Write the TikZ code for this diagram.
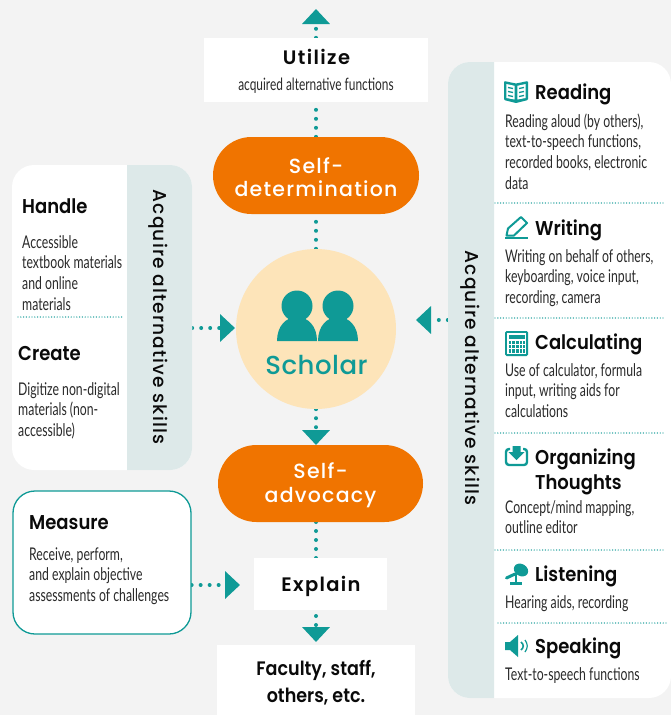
\documentclass[tikz,border=0pt]{standalone}
\usepackage{fontspec}
\usetikzlibrary{arrows.meta,shapes.misc}
\setmainfont{Lato}
\newfontfamily\hdf{Poppins}[UprightFont=* SemiBold,FakeStretch=0.9]
\newfontfamily\sphdf{Poppins}[UprightFont=* Medium,LetterSpace=6]
\newfontfamily\spbdf{Poppins}[UprightFont=* SemiBold,LetterSpace=7]
\newfontfamily\schf{Poppins}[UprightFont=* Medium,LetterSpace=2]
\newfontfamily\bdf{Lato}[FakeStretch=0.7]
\definecolor{tealc}{HTML}{0F9A96}
\definecolor{stripc}{HTML}{DDE9E9}
\definecolor{orangec}{HTML}{F07400}
\definecolor{creamc}{HTML}{FDE4B9}
\definecolor{bgc}{HTML}{F3F3F3}
\definecolor{inkc}{HTML}{0A0A0A}
\definecolor{bodyc}{HTML}{2A2A2A}
\pgfdeclarelayer{lines}
\pgfdeclarelayer{back}
\pgfsetlayers{back,lines,main}
\tikzset{
  whitebox/.style={fill=white,inner sep=0pt,draw=none},
  panelbox/.style={whitebox,rounded corners=22pt},
  pillbox/.style={rounded rectangle,fill=orangec,inner sep=0pt},
  dotline/.style={draw=tealc,line width=4pt,line cap=round,dash pattern=on 0pt off 9pt},
  sep/.style={draw=tealc,line width=1.4pt,line cap=round,dash pattern=on 0pt off 2.8pt},
  tip/.style={-{Triangle[width=27pt,length=15pt,color=tealc]}},
  title/.style={anchor=base west,inner sep=0pt,text=inkc,font=\hdf\fontsize{20}{24}\selectfont},
  bodyt/.style={anchor=north west,inner sep=0pt,align=left,text=bodyc,font=\bdf\fontsize{17.5}{20.6}\selectfont},
  striptext/.style={rotate=-90,inner sep=0pt,text=inkc,font=\sphdf\fontsize{18.6}{21}\selectfont},
  pilltext/.style={inner sep=0pt,text=white,font=\sphdf\fontsize{20.5}{23.5}\selectfont,align=center},
  iconl/.style={draw=tealc,fill=none,line width=2pt},
}
\newcommand{\bodyblock}[4]{\node[bodyt] (#1) at (#2,#3-14) {\rule{0pt}{14pt}#4};}
\begin{document}
\begin{tikzpicture}[x=1pt,y=-1pt]
\useasboundingbox (0,0) rectangle (671,715);
\begin{pgfonlayer}{back}
\fill[bgc] (0,0) rectangle (671,715);
\end{pgfonlayer}

% boxes
\node[whitebox,minimum width=224pt,minimum height=64pt] (utilize) at (316,70) {};
\node[pillbox,minimum width=206pt,minimum height=77pt] (selfdet) at (316,175.5) {};
\node[circle,fill=creamc,inner sep=0pt,minimum size=160pt] (scholar) at (316,329) {};
\node[pillbox,minimum width=205pt,minimum height=77pt] (selfadv) at (320.5,483.5) {};
\node[whitebox,minimum width=133pt,minimum height=52pt] (explain) at (320.5,584) {};
\node[whitebox,minimum width=198pt,minimum height=70pt] (faculty) at (316,680) {};
\node[panelbox,minimum width=223pt,minimum height=636pt] (rpanel) at (559.5,380) {};
\node[panelbox,minimum width=180pt,minimum height=305pt] (lpanel) at (102,317.5) {};
\node[panelbox,draw=tealc,line width=1.3pt,minimum width=178pt,minimum height=143pt] (measure) at (102,562.5) {};

% strips
\fill[stripc,rounded corners=22pt] (494,62) -- (448,62) -- (448,698) [sharp corners] -- (494,698) -- cycle;
\fill[stripc,rounded corners=22pt] (127,165) -- (192,165) -- (192,470) [sharp corners] -- (127,470) -- cycle;

% connector ends
\coordinate (topend) at (316,9);
\coordinate (lend) at (235,328);
\coordinate (rend) at (416,320);
\coordinate (mend) at (240,585);

\begin{pgfonlayer}{lines}
\draw[dotline,tip] (utilize.north) -- (topend);
\draw[dotline] (selfdet.north) -- (utilize.south);
\draw[dotline] (scholar.north) -- (selfdet.south);
\draw[dotline,tip] (scholar.south) -- (316,445);
\draw[dotline] (316,522) -- (316,558);
\draw[dotline,tip,shorten <=-3pt] (316,610) -- (316,642);
\draw[dotline,tip] (lpanel.east |- lend) -- (lend);
\draw[dotline,tip] (rpanel.west |- rend) -- (rend);
\draw[dotline,tip] (measure.east |- mend) -- (mend);
\end{pgfonlayer}

% centre column text
\node[anchor=base,inner sep=0pt,text=inkc,font=\spbdf\fontsize{19.5}{22}\selectfont] (utilizet) at (316.5,64) {Utilize};
\node[anchor=base,inner sep=0pt,text=bodyc,font=\bdf\fontsize{17}{20}\selectfont] (utilizes) at (316,90) {acquired alternative functions};
\node[pilltext] (selfdett) at (316,177) {Self-\\determination};
\node[pilltext] (selfadvt) at (320.5,485) {Self-\\advocacy};
\node[anchor=base,inner sep=0pt,text=tealc,font=\schf\fontsize{26}{30}\selectfont] (scholart) at (316.5,374) {Scholar};
\node[anchor=base,inner sep=0pt,text=inkc,font=\spbdf\fontsize{19.5}{22}\selectfont] (explaint) at (321,591) {Explain};
\node[inner sep=0pt,text=inkc,align=center,font=\hdf\fontsize{19.5}{27}\selectfont] (facultyt) at (316,683) {Faculty, staff,\\others, etc.};

% people icon
\fill[tealc] (297,306) circle (15.5);
\fill[tealc] (338,306) circle (15.5);
\fill[tealc] (277,341) .. controls (277,326) and (286,317) .. (297,317) .. controls (308,317) and (317,326) .. (317,341) -- cycle;
\fill[tealc] (318,341) .. controls (318,326) and (327,317) .. (338,317) .. controls (349,317) and (358,326) .. (358,341) -- cycle;

% strip labels
\node[striptext] (rstrip) at (470,378) {Acquire alternative skills};
\node[striptext] (lstrip) at (158,317) {Acquire alternative skills};

% left panel
\node[title] (handle) at (22,213) {Handle};
\bodyblock{handleb}{22}{248}{Accessible\\textbook materials\\and online\\materials}
\draw[sep] (18,317) -- (124,317);
\node[title] (create) at (18,360) {Create};
\bodyblock{createb}{18}{395}{Digitize non-digital\\materials (non-\\accessible)}

% measure
\node[title] (measuret) at (29,529) {Measure};
\bodyblock{measureb}{29}{560}{Receive, perform,\\and explain objective\\assessments of challenges}

% right panel
\node[title] (reading) at (535,99) {Reading};
\bodyblock{readingb}{505}{127}{Reading aloud (by others),\\text-to-speech functions,\\recorded books, electronic\\data}
\draw[sep] (495,203) -- (664,203);
\node[title] (writing) at (535,235) {Writing};
\bodyblock{writingb}{505}{262}{Writing on behalf of others,\\keyboarding, voice input,\\recording, camera}
\draw[sep] (495,318) -- (664,318);
\node[title] (calc) at (535,349) {Calculating};
\bodyblock{calcb}{505}{376}{Use of calculator, formula\\input, writing aids for\\calculations}
\draw[sep] (495,433) -- (664,433);
\node[anchor=north west,inner sep=0pt,align=left,text=inkc,font=\hdf\fontsize{20}{24.5}\selectfont] (org) at (535,449) {Organizing\\Thoughts};
\bodyblock{orgb}{505}{513}{Concept/mind mapping,\\outline editor}
\draw[sep] (495,550) -- (664,550);
\node[title] (listen) at (535,581) {Listening};
\bodyblock{listenb}{505}{608}{Hearing aids, recording}
\draw[sep] (498,623) -- (667,623);
\node[title] (speak) at (535,653) {Speaking};
\bodyblock{speakb}{505}{680}{Text-to-speech functions}

% book icon
\fill[tealc,rounded corners=1pt] (504,81) -- (516,83.5) -- (528,81) -- (528,100) -- (516,103) -- (504,100) -- cycle;
\fill[white] (506.3,84) -- (514.6,85.8) -- (514.6,99.5) -- (506.3,98) -- cycle;
\fill[white] (525.7,84) -- (517.4,85.8) -- (517.4,99.5) -- (525.7,98) -- cycle;
\foreach \yy in {88,92,96}{
  \draw[tealc,line width=1.3pt] (508,\yy-.5) -- (513,\yy+.5);
  \draw[tealc,line width=1.3pt] (524,\yy-.5) -- (519,\yy+.5);
}
% pencil icon
\draw[iconl,line join=round] (506.5,235.5) -- (508,228.5) -- (521,217) -- (527,223) -- (514,235.5) -- cycle;
\draw[tealc,line width=2pt] (505,237.5) -- (528,237.5);
% calculator icon
\fill[tealc,rounded corners=1.5pt] (505,331) rectangle (528,356);
\fill[white] (507,333) rectangle (526,354);
\fill[tealc] (508.5,334.5) rectangle (524.5,338.5);
\fill[tealc] (508.5,341) rectangle (524.5,352.5);
\foreach \xx in {511.7,515.6,519.5,523.4}{\draw[white,line width=.8pt] (\xx-.6,341) -- (\xx-.6,352.5);}
\foreach \yy in {344.8,348.7}{\draw[white,line width=.8pt] (508.5,\yy) -- (524.5,\yy);}
% tray icon
\draw[tealc,line width=2.4pt,rounded corners=3pt] (510,449) -- (506,449) -- (506,465) -- (527,465) -- (527,449) -- (523,449);
\fill[tealc] (512.5,446) -- (520.5,446) -- (520.5,452) -- (524.5,452) -- (516.5,460) -- (508.5,452) -- (512.5,452) -- cycle;
% microphone icon
\fill[tealc,rotate around={-30:(521,570)}] (521,570) ellipse (7.5 and 6);
\draw[tealc,line width=3pt,line cap=round] (515,574) -- (506.5,578);
\draw[tealc,line width=2.4pt] (516,574) -- (516,583);
\draw[tealc,line width=2.4pt] (510,583.5) -- (522,583.5);
% speaker icon
\fill[tealc] (505,642) -- (510,642) -- (518,635) -- (518,657) -- (510,650) -- (505,650) -- cycle;
\draw[tealc,line width=1.6pt] (521,642) .. controls (524,644.5) and (524,647.5) .. (521,650);
\draw[tealc,line width=1.2pt] (525,640) .. controls (528,644) and (528,648) .. (525,652);
\end{tikzpicture}
\end{document}
